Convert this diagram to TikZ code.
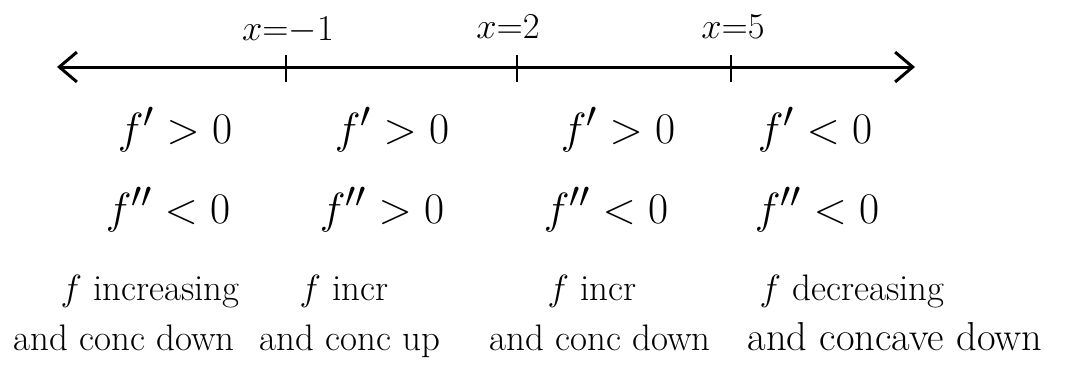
\documentclass[tikz,border=0pt]{standalone}
\usetikzlibrary{arrows.meta}
\tikzset{
  axis line/.style={>={Straight Barb[length=10pt,width=17pt]},<->},
  xlabel/.style={font=\fontsize{20}{22}\selectfont},
  sign/.style={font=\fontsize{29}{32}\selectfont,anchor=base},
  note/.style={font=\fontsize{21}{23}\selectfont,anchor=base,inner sep=0pt},
}
\begin{document}
\begin{tikzpicture}[x=0.02cm,y=-0.02cm,line width=1.7pt]
\useasboundingbox (0,0) rectangle (1090,370);
\coordinate (lend) at (57,67);
\coordinate (rend) at (915,67);
\draw[axis line] (lend) -- (rend);
% critical points
\foreach \n/\xx/\lx/\yy/\lab in {a/286/288/30/{$x{=}{-1}$}, b/517/508/27/{$x{=}2$}, c/731/733/27/{$x{=}5$}} {
  \coordinate (t\n) at (\xx,67);
  \draw (\xx,55) -- (\xx,82);
  \node[xlabel] (l\n) at (\lx,\yy) {\lab};
}
% first derivative
\node[sign] (fa) at (175,143) {$f'>0$};
\node[sign] (fb) at (392,143) {$f'>0$};
\node[sign] (fc) at (618,143) {$f'>0$};
\node[sign] (fd) at (815,143) {$f'<0$};
% second derivative
\node[sign] (ga) at (168,223) {$f''<0$};
\node[sign] (gb) at (382,223) {$f''>0$};
\node[sign] (gc) at (606,223) {$f''<0$};
\node[sign] (gd) at (817,223) {$f''<0$};
% behaviour
\node[note] (ha) at (150,300) {$f$ increasing};
\node[note] (ka) at (124,350) {and conc down};
\node[note] (hb) at (344,300) {$f$ incr};
\node[note] (kb) at (350,350) {and conc up};
\node[note] (hc) at (592,300) {$f$ incr};
\node[note] (kc) at (600,350) {and conc down};
\node[note] (hd) at (852,300) {$f$ decreasing};
\node[note,font=\fontsize{23}{25}\selectfont] (kd) at (895,350) {and concave down};
\end{tikzpicture}
\end{document}
